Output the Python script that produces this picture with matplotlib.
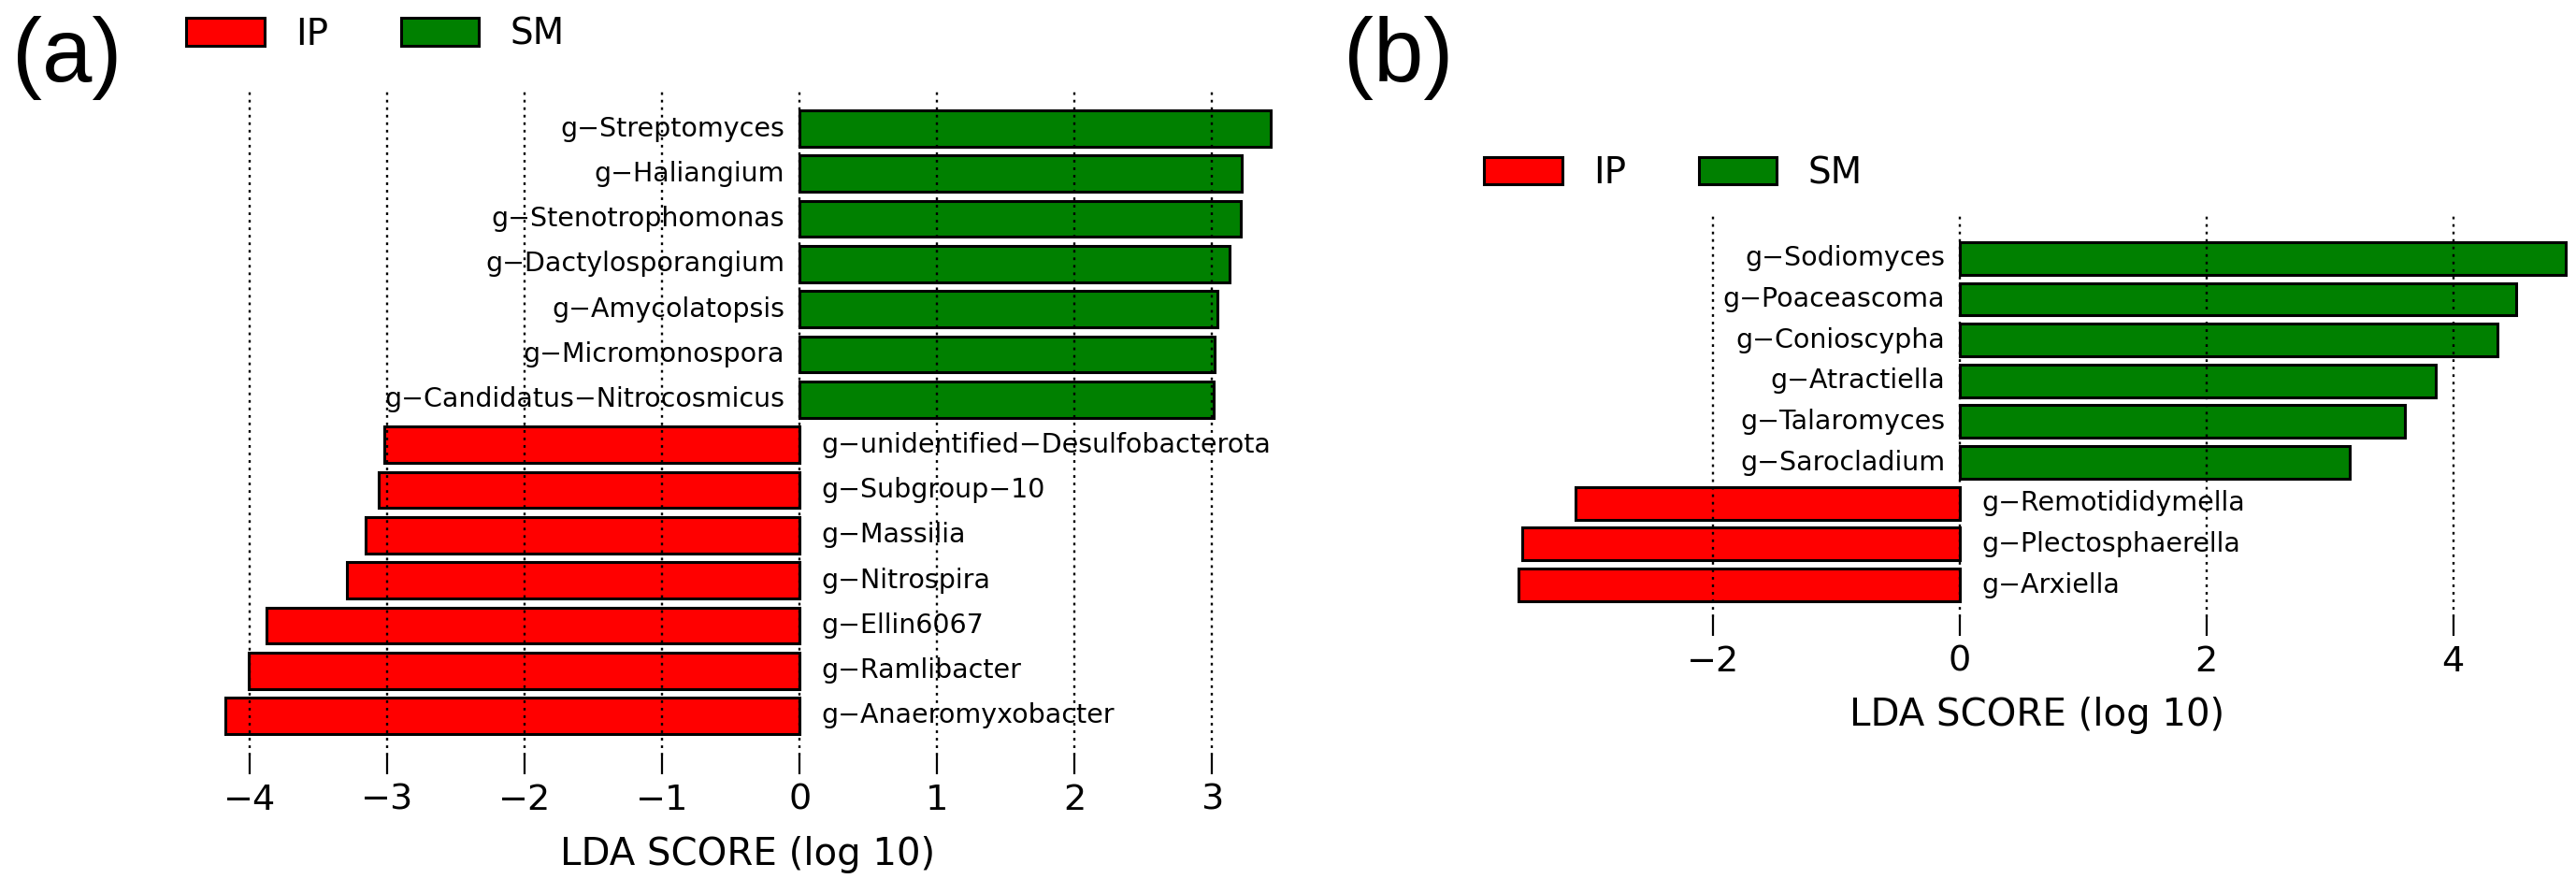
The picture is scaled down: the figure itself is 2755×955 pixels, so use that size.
import matplotlib
matplotlib.use("Agg")
import matplotlib.pyplot as plt
from matplotlib.patches import Patch

# ---------------- data ----------------
a_names = ["g−Streptomyces", "g−Haliangium", "g−Stenotrophomonas", "g−Dactylosporangium",
           "g−Amycolatopsis", "g−Micromonospora", "g−Candidatus−Nitrocosmicus",
           "g−unidentified−Desulfobacterota", "g−Subgroup−10", "g−Massilia",
           "g−Nitrospira", "g−Ellin6067", "g−Ramlibacter", "g−Anaeromyxobacter"]
a_scores = [3.43, 3.22, 3.21, 3.13, 3.04, 3.02, 3.01,
            -3.02, -3.06, -3.16, -3.29, -3.88, -4.01, -4.18]
a_ticks = [-4, -3, -2, -1, 0, 1, 2, 3]

b_names = ["g−Sodiomyces", "g−Poaceascoma", "g−Conioscypha", "g−Atractiella",
           "g−Talaromyces", "g−Sarocladium", "g−Remotididymella",
           "g−Plectosphaerella", "g−Arxiella"]
b_scores = [4.91, 4.51, 4.36, 3.86, 3.61, 3.16, -3.12, -3.55, -3.58]
b_ticks = [-2, 0, 2, 4]

groups = ["IP", "SM"]
group_colors = ["#FF0000", "#008000"]
xlabel = "LDA SCORE (log 10)"

W, H = 2755, 955
fig = plt.figure(figsize=(W / 100, H / 100), dpi=100)


def panel(rect, names, scores, ticks, xlim, ylim, xlabel_y):
    ax = fig.add_axes(rect)
    n = len(names)
    ypos = list(range(n - 1, -1, -1))
    colors = [group_colors[1] if s > 0 else group_colors[0] for s in scores]
    ax.barh(ypos, scores, height=0.8, color=colors, edgecolor="black",
            linewidth=2.2, zorder=1)
    for y, s, name in zip(ypos, scores, names):
        if s > 0:
            ax.annotate(name, xy=(0, y), xytext=(-16, 0), textcoords="offset pixels",
                        ha="right", va="center", fontsize=20.5, zorder=2)
        else:
            ax.annotate(name, xy=(0, y), xytext=(23, 0), textcoords="offset pixels",
                        ha="left", va="center", fontsize=20.5, zorder=2)
    ax.set_xlim(*xlim)
    ax.set_ylim(*ylim)
    ax.set_xticks(ticks)
    ax.set_yticks([])
    for sp in ax.spines.values():
        sp.set_visible(False)
    ax.set_axisbelow(False)
    ax.grid(axis="x", color="black", linestyle=(0, (1.2, 2.2)), linewidth=1.7)
    ax.tick_params(axis="x", direction="out", length=14.4, width=1.6,
                   labelsize=27.5, pad=7)
    ax.set_xlabel(xlabel, fontsize=29)
    ax.xaxis.set_label_coords(0.5, xlabel_y)
    ax.set_facecolor("none")
    return ax


# panel (a)
a_xlim = (-4.3, 3.55)
a_ylim = (-0.88, 13.88)
panel([223 / W, (H - 808) / H, 1154 / W, 713 / H], a_names, a_scores, a_ticks,
      a_xlim, a_ylim, -0.1206)

# panel (b)
b_xlim = (-3.7, 4.95)
b_ylim = (-0.79, 9.04)
panel([1608 / W, (H - 660) / H, 1141 / W, 429 / H], b_names, b_scores, b_ticks,
      b_xlim, b_ylim, -0.198)

handles = [Patch(facecolor=c, edgecolor="black", linewidth=2.2) for c in group_colors]
for (lx, ly) in [(199, 36.5), (1587, 185)]:
    fig.legend(handles, groups, loc="center left", bbox_to_anchor=(lx / W, 1 - ly / H),
               ncol=2, frameon=False, fontsize=28, handlelength=2.15,
               handleheight=0.8, handletextpad=0.85, columnspacing=2.0,
               borderpad=0, borderaxespad=0)

fig.text(13 / W, 1 - 62 / H, "(a)", fontsize=69, family="Liberation Sans",
         ha="left", va="center")
fig.text(1437 / W, 1 - 62 / H, "(b)", fontsize=69, family="Liberation Sans",
         ha="left", va="center")

fig.savefig("out.png", dpi=100)
